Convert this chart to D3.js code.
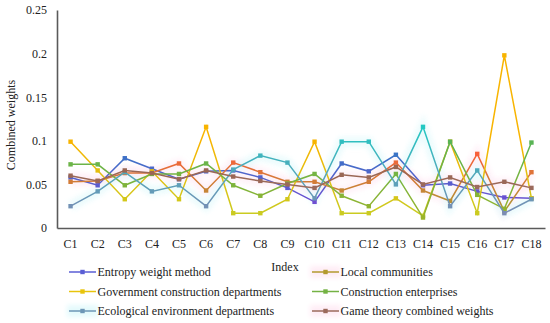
<!DOCTYPE html>
<html lang="en">
<head>
<meta charset="UTF-8">
<title>Combined weights</title>
<script src="https://d3js.org/d3.v7.min.js"></script>
<style>
  body { margin: 0; background: #fff; }
  svg text { font-family: "Liberation Serif", "Times New Roman", serif; }
</style>
</head>
<body>
<svg id="chart" width="550" height="323"></svg>
<script>
  // Index labels
  var indexes = ["C1","C2","C3","C4","C5","C6","C7","C8","C9","C10","C11","C12","C13","C14","C15","C16","C17","C18"];

  // weights
  var entropy = [0.058,0.049,0.080,0.068,0.056,0.065,0.066,0.058,0.046,0.030,0.074,0.065,0.084,0.049,0.051,0.042,0.035,0.034];
  var localCommunities = [0.053,0.054,0.063,0.063,0.074,0.043,0.075,0.064,0.053,0.053,0.043,0.053,0.075,0.043,0.031,0.085,0.019,0.064];
  var government = [0.099,0.066,0.033,0.065,0.033,0.116,0.017,0.017,0.033,0.099,0.017,0.017,0.034,0.014,0.099,0.017,0.198,0.034];
  var construction = [0.073,0.073,0.049,0.062,0.062,0.074,0.049,0.037,0.051,0.062,0.037,0.025,0.062,0.012,0.099,0.038,0.022,0.098];
  var ecological = [0.025,0.042,0.064,0.042,0.049,0.025,0.067,0.083,0.075,0.034,0.099,0.099,0.050,0.116,0.025,0.066,0.017,0.033];
  var gameTheory = [0.060,0.054,0.066,0.063,0.056,0.066,0.059,0.054,0.050,0.046,0.061,0.058,0.070,0.050,0.058,0.047,0.053,0.046];

  var yTicks = [0, 0.05, 0.1, 0.15, 0.2, 0.25];

  // series: name, values, low colour, high colour, legend colour, glow
  var series = [
    { name: "Entropy weight method", values: entropy, lo: "#6d4fd2", hi: "#3b74c6", key: "#5a5ed4", glow: null, col: 0 },
    { name: "Local communities", values: localCommunities, lo: "#a99a34", hi: "#f8603a", key: "#b39a2e", glow: "#feedf6", col: 1 },
    { name: "Government construction departments", values: government, lo: "#c9cc22", hi: "#f8b400", key: "#e8c40c", glow: null, col: 0 },
    { name: "Construction enterprises", values: construction, lo: "#9ab42a", hi: "#58b455", key: "#74b244", glow: null, col: 1 },
    { name: "Ecological environment departments", values: ecological, lo: "#7a8cb4", hi: "#22c8c2", key: "#6d96b6", glow: "#e4fafc", col: 0 },
    { name: "Game theory combined weights", values: gameTheory, lo: "#9b6a5c", hi: "#9a6550", key: "#9b6a5c", glow: "#feedf6", col: 1 }
  ];

  var svg = d3.select("#chart");

  var x = d3.scaleBand().domain(indexes).range([57, 545]);
  var y = d3.scaleLinear().domain([0, 0.25]).range([228, 10]);
  var cx = function(d, i) { return x(indexes[i]) + x.bandwidth() / 2; };

  var defs = svg.append("defs");
  defs.append("filter").attr("id", "soft")
    .attr("x", "-10%").attr("y", "-50%").attr("width", "120%").attr("height", "200%")
    .append("feGaussianBlur").attr("stdDeviation", 2.5);

  // faint glow under some lines
  var line = d3.line().x(cx).y(function(d) { return y(d); });
  series.forEach(function(s) {
    if (!s.glow) return;
    svg.append("path")
      .attr("d", line(s.values))
      .attr("fill", "none")
      .attr("stroke", s.glow)
      .attr("stroke-width", 10)
      .attr("opacity", 0.7)
      .attr("filter", "url(#soft)");
  });

  // Axes
  var yAxis = svg.append("g")
    .attr("transform", "translate(57,0)")
    .call(d3.axisLeft(y).tickValues(yTicks).tickSize(0).tickPadding(10)
      .tickFormat(function(d) { return d3.format("~g")(d); }));
  var xAxis = svg.append("g")
    .attr("transform", "translate(0,228)")
    .call(d3.axisBottom(x).tickSize(0).tickPadding(10));
  [xAxis, yAxis].forEach(function(a) {
    a.attr("font-family", null);
    a.select(".domain").attr("stroke", "#5a5a5a").attr("stroke-width", 1.6);
    a.selectAll("text").attr("font-size", 12).attr("fill", "#222");
  });
  xAxis.selectAll("text").attr("dy", "0.85em");

  svg.append("text")
    .attr("transform", "translate(15,125) rotate(-90)")
    .attr("text-anchor", "middle")
    .attr("font-size", 12).attr("fill", "#222")
    .text("Combined weights");
  svg.append("text")
    .attr("x", 285).attr("y", 271)
    .attr("text-anchor", "middle")
    .attr("font-size", 12).attr("fill", "#222")
    .text("Index");

  // Lines with colour following the value
  series.forEach(function(s, k) {
    var lo = d3.min(s.values), hi = d3.max(s.values);
    if (s.name === "Government construction departments") hi = 0.1;
    var col = d3.scaleLinear().domain([lo, hi]).range([s.lo, s.hi]).clamp(true);
    var g = defs.append("linearGradient").attr("id", "grad" + k)
      .attr("gradientUnits", "userSpaceOnUse")
      .attr("x1", 0).attr("x2", 0).attr("y1", y(lo)).attr("y2", y(hi));
    g.append("stop").attr("offset", 0).attr("stop-color", s.lo);
    g.append("stop").attr("offset", 1).attr("stop-color", s.hi);

    svg.append("path")
      .attr("d", line(s.values))
      .attr("fill", "none")
      .attr("stroke", "url(#grad" + k + ")")
      .attr("stroke-width", 1.5);

    svg.append("g").selectAll("rect")
      .data(s.values)
      .enter().append("rect")
        .attr("x", function(d, i) { return cx(d, i) - 2.2; })
        .attr("y", function(d) { return y(d) - 2.2; })
        .attr("width", 4.4).attr("height", 4.4)
        .attr("fill", function(d) { return col(d); });
  });

  // Legend
  var legend = svg.append("g");
  series.forEach(function(s, k) {
    var lx = s.col === 0 ? 69 : 312;
    var ly = 272 + Math.floor(k / 2) * 19.5;
    var item = legend.append("g").attr("transform", "translate(" + lx + "," + ly + ")");
    if (s.glow) {
      item.append("rect").attr("x", -2).attr("y", -6).attr("width", 31).attr("height", 12)
        .attr("fill", s.glow).attr("filter", "url(#soft)");
    }
    item.append("line").attr("x1", 0).attr("x2", 27)
      .attr("stroke", s.key).attr("stroke-width", 1.5);
    item.append("rect").attr("x", 11.3).attr("y", -2.2).attr("width", 4.4).attr("height", 4.4)
      .attr("fill", s.key);
    item.append("text").attr("x", 28.5).attr("dy", "0.35em")
      .attr("font-size", 12).attr("fill", "#222")
      .text(s.name);
  });
</script>
</body>
</html>
